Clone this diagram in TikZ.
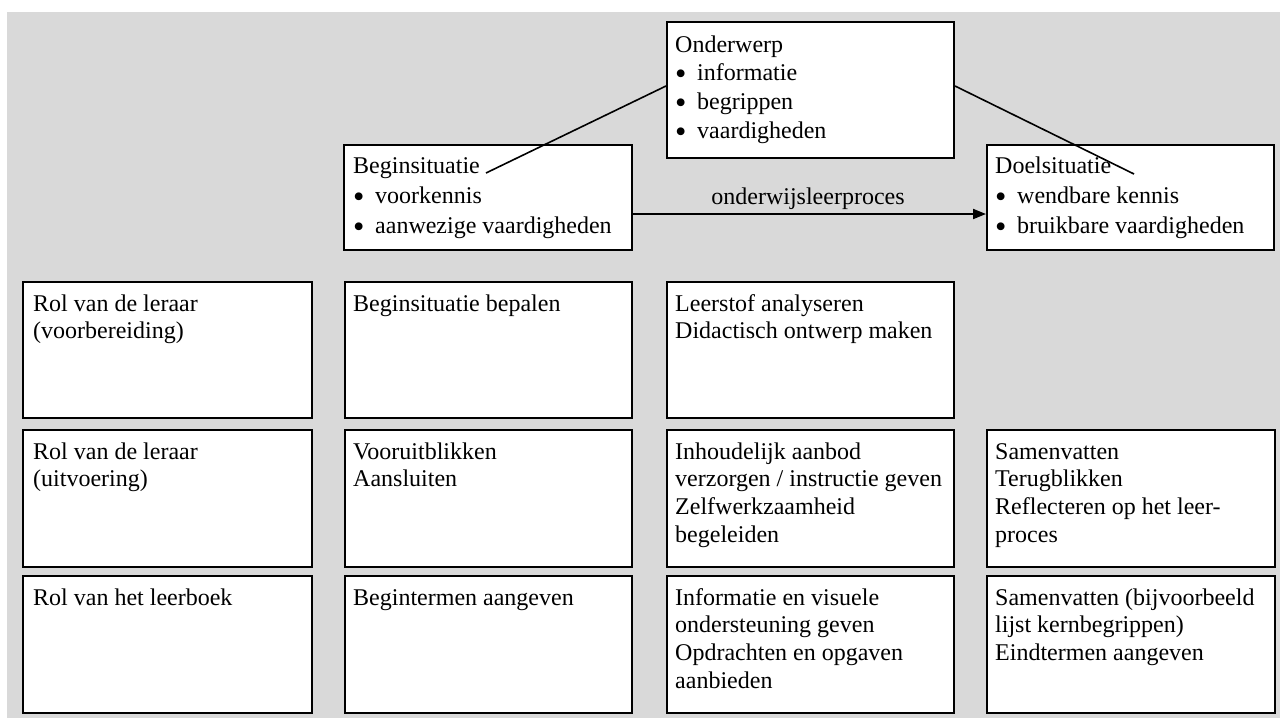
\documentclass[tikz,border=0pt]{standalone}
\usepackage{fontspec}
\setmainfont{Liberation Serif}
\usetikzlibrary{calc,arrows.meta}
\definecolor{bg}{RGB}{217,217,217}
\newcommand\itembul{\makebox[22pt][l]{\smash{\raisebox{-4pt}{\scalebox{1.35}{\textbullet}}}}}
\begin{document}
\begin{tikzpicture}[x=1pt,y=-1pt,
  box/.style={draw=black, line width=2pt, fill=white, anchor=north west, inner sep=0pt},
  txt/.style={inner sep=0pt, anchor=base west, font=\fontsize{24}{27.7}\selectfont},
  conn/.style={draw=black, line width=1.6pt}]
\useasboundingbox (0,0) rectangle (1280,718);
\fill[bg] (7,12) rectangle (1280,718);

% top boxes
\node[box, minimum width=287pt, minimum height=136pt] (onder) at (666,21) {};
\node[box, minimum width=288pt, minimum height=105pt] (begin) at (343,144) {};
\node[box, minimum width=287pt, minimum height=105pt] (doel) at (986,144) {};

\node[txt, font=\fontsize{24}{28.7}\selectfont] (onderT) at ($(onder.north west)+(9,31)$)
  {\parbox[t]{275pt}{Onderwerp\\ \itembul informatie\\ \itembul begrippen\\ \itembul vaardigheden}};
\node[txt, font=\fontsize{24}{30}\selectfont] (beginT) at ($(begin.north west)+(10,29)$)
  {\parbox[t]{275pt}{Beginsituatie\\ \itembul voorkennis\\ \itembul aanwezige vaardigheden}};
\node[txt, font=\fontsize{24}{30}\selectfont] (doelT) at ($(doel.north west)+(9,29)$)
  {\parbox[t]{275pt}{Doelsituatie\\ \itembul wendbare kennis\\ \itembul bruikbare vaardigheden}};

% connectors
\coordinate (bEnd) at (486,173);
\coordinate (dEnd) at (1134,174);
\draw[conn] ($(onder.north west)+(0,65)$) -- (bEnd);
\draw[conn] ($(onder.north east)+(0,65)$) -- (dEnd);
\draw[conn, line width=2pt, -{Triangle[length=13pt,width=10pt]}] ($(begin.north east)+(0,70)$) -- ($(doel.north west)+(0,70)$);
\node[txt, anchor=base] (lbl) at (808,204) {onderwijsleerproces};

% grid row 1
\node[box, minimum width=289pt, minimum height=136pt] (r1c1) at (22,281) {};
\node[box, minimum width=287pt, minimum height=136pt] (r1c2) at (344,281) {};
\node[box, minimum width=287pt, minimum height=136pt] (r1c3) at (666,281) {};
% grid row 2
\node[box, minimum width=289pt, minimum height=137pt] (r2c1) at (22,429) {};
\node[box, minimum width=287pt, minimum height=137pt] (r2c2) at (344,429) {};
\node[box, minimum width=287pt, minimum height=137pt] (r2c3) at (666,429) {};
\node[box, minimum width=288pt, minimum height=137pt] (r2c4) at (986,429) {};
% grid row 3
\node[box, minimum width=289pt, minimum height=137pt] (r3c1) at (22,575) {};
\node[box, minimum width=287pt, minimum height=137pt] (r3c2) at (344,575) {};
\node[box, minimum width=287pt, minimum height=137pt] (r3c3) at (666,575) {};
\node[box, minimum width=288pt, minimum height=137pt] (r3c4) at (986,575) {};

\node[txt] (t11) at ($(r1c1.north west)+(11,30)$) {\parbox[t]{275pt}{Rol van de leraar\\(voorbereiding)}};
\node[txt] (t12) at ($(r1c2.north west)+(9,30)$) {\parbox[t]{275pt}{Beginsituatie bepalen}};
\node[txt] (t13) at ($(r1c3.north west)+(9,30)$) {\parbox[t]{275pt}{Leerstof analyseren\\Didactisch ontwerp maken}};

\node[txt] (t21) at ($(r2c1.north west)+(11,30)$) {\parbox[t]{275pt}{Rol van de leraar\\(uitvoering)}};
\node[txt] (t22) at ($(r2c2.north west)+(9,30)$) {\parbox[t]{275pt}{Vooruitblikken\\Aansluiten}};
\node[txt] (t23) at ($(r2c3.north west)+(9,30)$) {\parbox[t]{275pt}{Inhoudelijk aanbod\\verzorgen / instructie geven\\Zelfwerkzaamheid\\begeleiden}};
\node[txt] (t24) at ($(r2c4.north west)+(9,30)$) {\parbox[t]{275pt}{Samenvatten\\Terugblikken\\Reflecteren op het leer-\\proces}};

\node[txt] (t31) at ($(r3c1.north west)+(11,30)$) {\parbox[t]{275pt}{Rol van het leerboek}};
\node[txt] (t32) at ($(r3c2.north west)+(9,30)$) {\parbox[t]{275pt}{Begintermen aangeven}};
\node[txt] (t33) at ($(r3c3.north west)+(9,30)$) {\parbox[t]{275pt}{Informatie en visuele\\ondersteuning geven\\Opdrachten en opgaven\\aanbieden}};
\node[txt] (t34) at ($(r3c4.north west)+(9,30)$) {\parbox[t]{275pt}{Samenvatten (bijvoorbeeld\\lijst kernbegrippen)\\Eindtermen aangeven}};
\end{tikzpicture}
\end{document}
